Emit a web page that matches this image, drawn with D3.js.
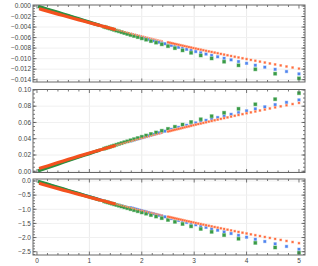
<!DOCTYPE html>
<html><head><meta charset="utf-8">
<script src="https://cdn.jsdelivr.net/npm/d3@7"></script>
<style>body{margin:0;background:#fff}svg{display:block}</style>
</head><body>
<script>
// ---- data ----
const xTicks = [0, 1, 2, 3, 4, 5];
const xTickLabels = ["0", "1", "2", "3", "4", "5"];
const yTicks1 = [0, -0.002, -0.004, -0.006, -0.008, -0.010, -0.012, -0.014];
const yTickLabels1 = ["0.000", "\u22120.002", "\u22120.004", "\u22120.006", "\u22120.008", "\u22120.010", "\u22120.012", "\u22120.014"];
const yTicks2 = [0, 0.02, 0.04, 0.06, 0.08, 0.10];
const yTickLabels2 = ["0.00", "0.02", "0.04", "0.06", "0.08", "0.10"];
const yTicks3 = [0, -0.5, -1.0, -1.5, -2.0, -2.5];
const yTickLabels3 = ["0.0", "\u22120.5", "\u22121.0", "\u22121.5", "\u22122.0", "\u22122.5"];

const xGreen = [5.000,4.545,4.167,3.846,3.571,3.333,3.125,2.941,2.778,2.632,2.500,2.381,2.273,2.174,2.083,2.000,1.923,1.852,1.786,1.724,1.667,1.613,1.563,1.515,1.471,1.429,1.389,1.351,1.316,1.282,1.250,1.2,1.1,1.0,0.9,0.8,0.7,0.6,0.5,0.4,0.3,0.2,0.1,0.02];
const green1 = [-0.01375,-0.01286,-0.01203,-0.01127,-0.01058,-0.00996,-0.00940,-0.00889,-0.00843,-0.00801,-0.00763,-0.00728,-0.00696,-0.00667,-0.00640,-0.00615,-0.00591,-0.00570,-0.00550,-0.00531,-0.00513,-0.00497,-0.00481,-0.00467,-0.00453,-0.00440,-0.00428,-0.00416,-0.00405,-0.00395,-0.00385,-0.00370,-0.00339,-0.00308,-0.00277,-0.00246,-0.00216,-0.00185,-0.00154,-0.00123,-0.00092,-0.00062,-0.00031,-0.00006];
const green2 = [0.0960,0.0886,0.0823,0.0768,0.0719,0.0677,0.0639,0.0605,0.0574,0.0547,0.0521,0.0498,0.0477,0.0458,0.0440,0.0424,0.0408,0.0394,0.0381,0.0368,0.0357,0.0346,0.0336,0.0326,0.0317,0.0308,0.0300,0.0292,0.0285,0.0278,0.0271,0.0261,0.0240,0.0218,0.0197,0.0176,0.0154,0.0133,0.0111,0.0089,0.0067,0.0045,0.0022,0.0005];
const green3 = [-2.538,-2.352,-2.188,-2.042,-1.913,-1.798,-1.695,-1.603,-1.520,-1.445,-1.377,-1.314,-1.257,-1.205,-1.156,-1.112,-1.070,-1.032,-0.996,-0.962,-0.931,-0.902,-0.874,-0.848,-0.824,-0.801,-0.779,-0.758,-0.738,-0.720,-0.702,-0.674,-0.618,-0.563,-0.507,-0.451,-0.395,-0.339,-0.282,-0.226,-0.170,-0.113,-0.057,-0.011];

const xBlue = [5.000,4.762,4.545,4.348,4.167,4.000,3.846,3.704,3.571,3.448,3.333,3.226,3.125,3.030,2.941,2.857,2.778,2.703,2.632,2.564,2.500,2.439,2.381,2.326,2.273,2.222,2.174,2.128,2.083,2.041,2.000,1.961,1.923,1.887,1.852,1.818,1.786,1.754,1.7,1.6,1.5,1.4,1.3,1.2,1.1,1.0,0.9,0.8,0.7,0.6,0.5,0.4,0.3,0.2,0.1,0.02];
const blue1 = [-0.0129,-0.01245,-0.01203,-0.01162,-0.01125,-0.01089,-0.01055,-0.01023,-0.00993,-0.00965,-0.00938,-0.00913,-0.00889,-0.00866,-0.00844,-0.00823,-0.00804,-0.00785,-0.00767,-0.00749,-0.00733,-0.00717,-0.00702,-0.00688,-0.00674,-0.00660,-0.00647,-0.00635,-0.00623,-0.00611,-0.00600,-0.00590,-0.00579,-0.00569,-0.00560,-0.00550,-0.00541,-0.00531,-0.00515,-0.00485,-0.00455,-0.00424,-0.00394,-0.00364,-0.00333,-0.00303,-0.00273,-0.00242,-0.00212,-0.00182,-0.00152,-0.00121,-0.00091,-0.00061,-0.00030,-0.00006];
const blue2 = [0.0877,0.0847,0.0819,0.0792,0.0767,0.0743,0.0721,0.0700,0.0680,0.0661,0.0643,0.0626,0.0609,0.0594,0.0579,0.0565,0.0552,0.0539,0.0527,0.0515,0.0504,0.0493,0.0483,0.0473,0.0464,0.0454,0.0446,0.0437,0.0429,0.0421,0.0414,0.0406,0.0399,0.0393,0.0386,0.0379,0.0373,0.0367,0.0357,0.0338,0.0318,0.0298,0.0278,0.0258,0.0238,0.0217,0.0197,0.0176,0.0154,0.0133,0.0111,0.0089,0.0067,0.0045,0.0022,0.0005];
const blue3 = [-2.413,-2.314,-2.223,-2.139,-2.061,-1.988,-1.920,-1.857,-1.797,-1.741,-1.689,-1.640,-1.593,-1.549,-1.507,-1.467,-1.430,-1.394,-1.360,-1.328,-1.297,-1.267,-1.239,-1.213,-1.187,-1.162,-1.138,-1.115,-1.093,-1.072,-1.052,-1.033,-1.014,-0.996,-0.978,-0.961,-0.945,-0.929,-0.902,-0.851,-0.800,-0.749,-0.697,-0.645,-0.593,-0.541,-0.488,-0.435,-0.381,-0.328,-0.274,-0.220,-0.165,-0.110,-0.055,-0.011];

const xOrange = [5.000,4.878,4.762,4.651,4.545,4.444,4.348,4.255,4.167,4.082,4.000,3.922,3.846,3.774,3.704,3.636,3.571,3.509,3.448,3.390,3.333,3.279,3.226,3.175,3.125,3.077,3.030,2.985,2.941,2.899,2.857,2.817,2.778,2.740,2.703,2.667,2.632,2.597,2.564,2.532,2.500,2.4,2.3,2.2,2.1,2.0,1.9,1.8,1.7,1.6,1.5,1.4,1.3,1.2,1.1,1.0,0.9,0.8,0.7,0.6,0.5,0.4,0.3,0.2,0.1,0.04];
const orange1 = [-0.0119,-0.01169,-0.01149,-0.01129,-0.01110,-0.01092,-0.01074,-0.01057,-0.01040,-0.01024,-0.01008,-0.00993,-0.00978,-0.00964,-0.00950,-0.00936,-0.00923,-0.00910,-0.00897,-0.00885,-0.00873,-0.00862,-0.00851,-0.00840,-0.00829,-0.00819,-0.00809,-0.00799,-0.00789,-0.00780,-0.00771,-0.00762,-0.00753,-0.00745,-0.00736,-0.00728,-0.00720,-0.00712,-0.00705,-0.00697,-0.00690,-0.00667,-0.00644,-0.00620,-0.00596,-0.00572,-0.00548,-0.00523,-0.00498,-0.00473,-0.00448,-0.00423,-0.00397,-0.00371,-0.00345,-0.00318,-0.00291,-0.00264,-0.00237,-0.00210,-0.00182,-0.00154,-0.00126,-0.00098,-0.00069,-0.00052];
const orange2 = [0.0840,0.0826,0.0811,0.0798,0.0785,0.0772,0.0759,0.0747,0.0735,0.0724,0.0713,0.0702,0.0692,0.0682,0.0672,0.0662,0.0653,0.0644,0.0635,0.0627,0.0618,0.0610,0.0602,0.0595,0.0587,0.0580,0.0573,0.0566,0.0559,0.0552,0.0546,0.0540,0.0533,0.0527,0.0521,0.0516,0.0510,0.0505,0.0499,0.0494,0.0489,0.0472,0.0456,0.0439,0.0422,0.0405,0.0388,0.0370,0.0353,0.0335,0.0317,0.0299,0.0280,0.0262,0.0243,0.0224,0.0205,0.0186,0.0166,0.0147,0.0127,0.0107,0.0087,0.0066,0.0046,0.0033];
const orange3 = [-2.198,-2.158,-2.120,-2.083,-2.048,-2.013,-1.980,-1.947,-1.916,-1.886,-1.856,-1.828,-1.800,-1.773,-1.747,-1.721,-1.696,-1.673,-1.649,-1.627,-1.604,-1.583,-1.562,-1.542,-1.522,-1.503,-1.484,-1.465,-1.447,-1.430,-1.413,-1.397,-1.380,-1.365,-1.349,-1.334,-1.319,-1.304,-1.290,-1.277,-1.263,-1.220,-1.177,-1.133,-1.089,-1.044,-0.999,-0.953,-0.907,-0.861,-0.814,-0.767,-0.719,-0.671,-0.623,-0.574,-0.524,-0.474,-0.424,-0.373,-0.322,-0.271,-0.219,-0.166,-0.113,-0.081];

// ---- layout / style ----
const W = 318, H = 266;
const svg = d3.select("body").append("svg").attr("width", W).attr("height", H);
const x = d3.scaleLinear().domain([-0.076, 5.115]).range([33, 305]);

const styles = [
  { fill: "#3a9a48", halo: "#a3d5aa", size: 3.0, band: "#2f8f3f", bandW: 3.4, thickEnd: 1.2,  bandEnd: 1.27, thin: "#4aa35a", thinW: 2.6 },
  { fill: "#4f84ee", halo: "#b2caf8", size: 2.4, band: "#3f6fe6", bandW: 2.2, thickEnd: 1.4,  bandEnd: 1.76, thin: "#6d98f0", thinW: 2.0 },
  { fill: "#ff6a3d", halo: "#ffc3ab", size: 1.8, band: "#f4511e", bandW: 3.2, thickEnd: 1.5,  bandEnd: 2.45, thin: "#ff8a62", thinW: 1.9 }
];
const xs = [xGreen, xBlue, xOrange];
const drawOrder = [1, 0, 2];

const panels = [
  { top: 5, bottom: 82, domain: [-0.01444, 0.00019], ticks: yTicks1, labels: yTickLabels1, minorStep: 0.0005, series: [green1, blue1, orange1], showX: false },
  { top: 89.5, bottom: 172.5, domain: [-0.0015, 0.1005], ticks: yTicks2, labels: yTickLabels2, minorStep: 0.005, series: [green2, blue2, orange2], showX: false },
  { top: 179, bottom: 255, domain: [-2.617, 0.07], ticks: yTicks3, labels: yTickLabels3, minorStep: 0.1, series: [green3, blue3, orange3], showX: true }
];

const font = "'Liberation Sans', Arial, sans-serif";
const minorX = d3.range(0, 5.1, 0.2).filter(v => Math.abs(v - Math.round(v)) > 1e-6);

panels.forEach((p, pi) => {
  const y = d3.scaleLinear().domain(p.domain).range([p.bottom, p.top]);
  const g = svg.append("g");
  const L = x.range()[0], R = x.range()[1];

  // grid
  xTicks.forEach(t => {
    if (t > 0 && t < 5) g.append("line").attr("x1", x(t)).attr("x2", x(t)).attr("y1", p.top).attr("y2", p.bottom)
      .attr("stroke", "#ebebeb").attr("stroke-width", 1);
  });
  p.ticks.forEach(t => {
    const yy = y(t);
    if (yy > p.top + 1 && yy < p.bottom - 1)
      g.append("line").attr("x1", L).attr("x2", R).attr("y1", yy).attr("y2", yy).attr("stroke", "#f0f0f0").attr("stroke-width", 1);
  });

  // series
  const clip = "clip" + pi;
  svg.append("clipPath").attr("id", clip).append("rect").attr("x", L).attr("y", p.top).attr("width", R - L).attr("height", p.bottom - p.top);
  const sg = g.append("g").attr("clip-path", `url(#${clip})`);
  const line = d3.line().x(d => x(d[0])).y(d => y(d[1]));
  drawOrder.forEach(si => {
    const vals = p.series[si];
    const st = styles[si];
    const pts = xs[si].map((xv, i) => [xv, vals[i]]).sort((a, b) => a[0] - b[0]);
    const thinPts = pts.filter(d => d[0] >= st.thickEnd - 0.11 && d[0] <= st.bandEnd);
    sg.append("path").datum(thinPts).attr("d", line)
      .attr("fill", "none").attr("stroke", st.thin).attr("stroke-width", st.thinW)
      .attr("stroke-dasharray", si === 2 ? "1.4,0.7" : null);
    sg.append("path").datum(pts.filter(d => d[0] <= st.thickEnd)).attr("d", line)
      .attr("fill", "none").attr("stroke", st.band).attr("stroke-width", st.bandW).attr("stroke-linecap", "butt");
    const sparse = pts.filter(d => d[0] > st.bandEnd);
    sg.selectAll(null).data(sparse).enter().append("rect")
      .attr("x", d => x(d[0]) - st.size / 2 - 0.5).attr("y", d => y(d[1]) - st.size / 2 - 0.5)
      .attr("width", st.size + 1).attr("height", st.size + 1).attr("fill", st.halo);
    sg.selectAll(null).data(sparse).enter().append("rect")
      .attr("x", d => x(d[0]) - st.size / 2).attr("y", d => y(d[1]) - st.size / 2)
      .attr("width", st.size).attr("height", st.size).attr("fill", st.fill);
  });

  // ticks (inward, all sides)
  const tk = g.append("g").attr("stroke", "#555").attr("stroke-width", 0.8);
  xTicks.forEach(t => {
    tk.append("line").attr("x1", x(t)).attr("x2", x(t)).attr("y1", p.bottom).attr("y2", p.bottom - 3.5);
    tk.append("line").attr("x1", x(t)).attr("x2", x(t)).attr("y1", p.top).attr("y2", p.top + 3.5);
  });
  minorX.forEach(t => {
    tk.append("line").attr("x1", x(t)).attr("x2", x(t)).attr("y1", p.bottom).attr("y2", p.bottom - 2);
    tk.append("line").attr("x1", x(t)).attr("x2", x(t)).attr("y1", p.top).attr("y2", p.top + 2);
  });
  p.ticks.forEach(t => {
    tk.append("line").attr("x1", L).attr("x2", L + 3.5).attr("y1", y(t)).attr("y2", y(t));
    tk.append("line").attr("x1", R).attr("x2", R - 3.5).attr("y1", y(t)).attr("y2", y(t));
  });
  const [d0, d1] = p.domain;
  const nMin = Math.ceil(d0 / p.minorStep), nMax = Math.floor(d1 / p.minorStep);
  for (let k = nMin; k <= nMax; k++) {
    const t = k * p.minorStep;
    tk.append("line").attr("x1", L).attr("x2", L + 2).attr("y1", y(t)).attr("y2", y(t));
    tk.append("line").attr("x1", R).attr("x2", R - 2).attr("y1", y(t)).attr("y2", y(t));
  }

  // frame
  g.append("rect").attr("x", L).attr("y", p.top).attr("width", R - L).attr("height", p.bottom - p.top)
    .attr("fill", "none").attr("stroke", "#666").attr("stroke-width", 1);

  // labels
  p.ticks.forEach((t, i) => {
    g.append("text").attr("x", L - 2).attr("y", y(t)).attr("dy", "0.35em").attr("text-anchor", "end")
      .attr("font-family", font).attr("font-size", 6.5).attr("fill", "#444").text(p.labels[i]);
  });
  if (p.showX) {
    xTicks.forEach((t, i) => {
      g.append("text").attr("x", x(t)).attr("y", p.bottom + 7.5).attr("text-anchor", "middle")
        .attr("font-family", font).attr("font-size", 6.5).attr("fill", "#444").text(xTickLabels[i]);
    });
  }
});
</script>
</body></html>
